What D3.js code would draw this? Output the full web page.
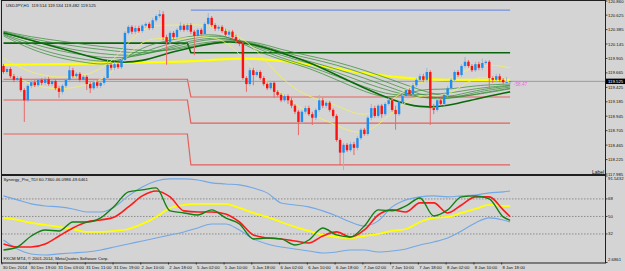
<!DOCTYPE html>
<html>
<head>
<meta charset="utf-8">
<script src="https://cdn.jsdelivr.net/npm/d3@7"></script>
<style>
  body { margin: 0; background: #d4d4d4; }
  svg text { font-family: 'Liberation Sans', Arial, sans-serif; }
</style>
</head>
<body>
<svg id="chart" width="625" height="271"></svg>
<script>
// ---- data ----
const chartTitle = 'USDJPY,H1  119.514 119.534 119.482 119.525';
const tdiTitle = 'Synergy_Pro_TDI 60.7360 46.0986 49.6461';
const copyright = 'FXCM MT4, \u00a9 2001-2014, MetaQuotes Software Corp.';

const timeLabels = ['30 Dec 2014', '30 Dec 19:00', '31 Dec 03:00', '31 Dec 11:00', '31 Dec 19:00',
  '2 Jan 10:00', '2 Jan 18:00', '5 Jan 02:00', '5 Jan 10:00', '5 Jan 18:00', '6 Jan 02:00',
  '6 Jan 10:00', '6 Jan 18:00', '7 Jan 02:00', '7 Jan 10:00', '7 Jan 18:00', '8 Jan 02:00',
  '8 Jan 10:00', '8 Jan 18:00'];
const timeLabelBars = [0, 8, 16, 24, 32, 40, 48, 56, 64, 72, 80, 88, 96, 104, 112, 120, 128, 136, 144];

const priceTicks = [120.860, 120.625, 120.385, 120.145, 119.905, 119.665, 119.425, 119.185,
  118.945, 118.705, 118.465, 118.225, 117.985];
const lastPrice = 119.525;
const tdiTicks = [91.5432, 68, 50, 32, 2.6861];
const tdiLevels = [68, 50, 32];

// H1 candles: open, high, low, close
const candles = [
  [119.78,119.81,119.65,119.68],[119.68,119.76,119.65,119.73],[119.73,119.76,119.58,119.61],
  [119.61,119.65,119.51,119.55],[119.55,119.61,119.51,119.58],[119.58,119.61,119.35,119.38],
  [119.38,119.41,118.85,119.21],[119.21,119.48,119.18,119.45],[119.45,119.55,119.41,119.51],
  [119.51,119.55,119.43,119.46],[119.46,119.58,119.43,119.55],[119.55,119.58,119.46,119.50],
  [119.50,119.60,119.46,119.56],[119.56,119.60,119.45,119.48],[119.48,119.56,119.45,119.53],
  [119.53,119.56,119.38,119.41],[119.41,119.45,119.25,119.35],[119.35,119.48,119.31,119.45],
  [119.45,119.58,119.41,119.55],[119.55,119.78,119.51,119.71],[119.71,119.75,119.58,119.61],
  [119.61,119.68,119.58,119.65],[119.65,119.68,119.51,119.55],[119.55,119.63,119.51,119.60],
  [119.60,119.63,119.38,119.48],[119.48,119.51,119.33,119.41],[119.41,119.55,119.38,119.51],
  [119.51,119.55,119.41,119.45],[119.45,119.53,119.41,119.50],[119.50,119.61,119.46,119.58],
  [119.58,119.88,119.55,119.80],[119.80,119.83,119.71,119.75],[119.75,119.85,119.71,119.81],
  [119.81,119.85,119.73,119.76],[119.76,119.91,119.73,119.88],[119.88,120.36,119.85,120.33],
  [120.33,120.46,120.30,120.43],[120.43,120.46,120.31,120.35],[120.35,120.45,120.31,120.41],
  [120.41,120.45,120.33,120.36],[120.36,120.48,120.33,120.45],[120.45,120.51,120.41,120.48],
  [120.48,120.51,120.38,120.41],[120.41,120.58,120.38,120.54],[120.54,120.64,120.51,120.61],
  [120.61,120.71,120.58,120.64],[120.64,120.69,120.21,120.26],[120.26,120.30,119.80,120.18],
  [120.18,120.36,120.15,120.33],[120.33,120.36,120.23,120.26],[120.26,120.41,120.23,120.38],
  [120.38,120.51,120.35,120.45],[120.45,120.48,120.35,120.38],[120.38,120.49,120.35,120.46],
  [120.46,120.49,120.31,120.35],[120.35,120.38,119.96,120.28],[120.28,120.41,120.25,120.38],
  [120.38,120.41,120.28,120.31],[120.31,120.51,120.28,120.48],[120.48,120.66,120.45,120.58],
  [120.58,120.61,120.43,120.46],[120.46,120.49,120.36,120.40],[120.40,120.46,120.36,120.43],
  [120.43,120.46,120.33,120.36],[120.36,120.40,120.26,120.30],[120.30,120.38,120.26,120.35],
  [120.35,120.38,120.23,120.26],[120.26,120.30,120.16,120.20],[120.20,120.23,120.11,120.15],
  [120.15,120.18,119.55,119.58],[119.58,119.61,119.35,119.48],[119.48,119.75,119.45,119.71],
  [119.71,119.75,119.46,119.63],[119.63,119.71,119.60,119.68],[119.68,119.71,119.55,119.58],
  [119.58,119.61,119.45,119.48],[119.48,119.51,119.38,119.41],[119.41,119.53,119.38,119.50],
  [119.50,119.53,119.25,119.35],[119.35,119.38,119.27,119.30],[119.30,119.33,119.18,119.21],
  [119.21,119.31,119.18,119.28],[119.28,119.31,119.15,119.21],[119.21,119.25,119.08,119.12],
  [119.12,119.15,118.98,119.02],[119.02,119.05,118.63,118.85],[118.85,119.05,118.82,119.02],
  [119.02,119.12,118.98,119.08],[119.08,119.12,118.95,118.98],[118.98,119.02,118.80,118.92],
  [118.92,119.08,118.88,119.05],[119.05,119.30,119.02,119.21],[119.21,119.25,119.08,119.12],
  [119.12,119.20,119.08,119.17],[119.17,119.20,119.02,119.05],[119.05,119.08,118.92,118.95],
  [118.95,118.98,118.52,118.55],[118.55,118.58,118.13,118.34],[118.34,118.50,118.05,118.47],
  [118.47,118.50,118.35,118.38],[118.38,118.52,118.35,118.48],[118.48,118.52,118.30,118.42],
  [118.42,118.61,118.38,118.58],[118.58,118.75,118.55,118.72],[118.72,118.75,118.62,118.65],
  [118.65,118.95,118.62,118.92],[118.92,119.15,118.88,119.08],[119.08,119.12,118.92,118.95],
  [118.95,119.15,118.92,119.12],[119.12,119.15,118.92,118.98],[118.98,119.18,118.95,119.15],
  [119.15,119.25,119.12,119.21],[119.21,119.25,119.02,119.05],[119.05,119.12,118.72,118.98],
  [118.98,119.21,118.95,119.18],[119.18,119.31,119.15,119.28],[119.28,119.41,119.25,119.38],
  [119.38,119.41,119.28,119.31],[119.31,119.50,119.28,119.46],[119.46,119.58,119.43,119.55],
  [119.55,119.65,119.51,119.61],[119.61,119.65,119.51,119.55],[119.55,119.75,119.51,119.68],
  [119.68,119.71,118.80,119.08],[119.08,119.15,118.98,119.05],[119.05,119.25,119.02,119.21],
  [119.21,119.25,119.12,119.15],[119.15,119.33,119.12,119.30],[119.30,119.45,119.27,119.41],
  [119.41,119.58,119.38,119.55],[119.55,119.71,119.51,119.68],[119.68,119.71,119.60,119.63],
  [119.63,119.81,119.60,119.78],[119.78,119.93,119.75,119.85],[119.85,119.88,119.75,119.78],
  [119.78,119.81,119.68,119.71],[119.71,119.85,119.68,119.81],[119.81,119.85,119.71,119.75],
  [119.75,119.90,119.71,119.83],[119.83,119.88,119.80,119.85],[119.85,119.88,119.41,119.58],
  [119.58,119.61,119.50,119.55],[119.55,119.65,119.51,119.61],[119.61,119.65,119.51,119.55],
  [119.55,119.58,119.48,119.51],[119.51,119.60,119.48,119.514],[119.514,119.534,119.482,119.525]
];

// daily levels: day one runs to bar 53, day two from bar 54
const levelBars = [0, 53, 54, 146];
const redLevels = [[119.56, 119.265], [119.215, 118.83], [118.65, 118.135]];
const greenLevel = [120.16, 120.00];
const blueLevel = 120.71;

// moving-average ribbon, sampled every 8 bars
const fanBars = [0, 8, 16, 24, 32, 40, 48, 56, 64, 72, 80, 88, 96, 104, 112, 120, 128, 136, 146];
const fanLines = [
  [120.28,120.05,119.91,119.83,119.78,120.11,120.21,120.30,120.31,120.05,119.88,119.75,119.55,119.35,119.215,119.41,119.38,119.46,119.48],
  [120.30,120.10,119.96,119.88,119.83,120.01,120.16,120.26,120.30,120.10,119.91,119.78,119.61,119.43,119.28,119.31,119.315,119.41,119.46],
  [120.31,120.15,120.03,119.95,119.90,119.95,120.11,120.23,120.26,120.13,119.95,119.83,119.68,119.50,119.35,119.25,119.25,119.38,119.45],
  [120.33,120.20,120.10,120.01,119.96,119.95,120.08,120.20,120.25,120.16,119.98,119.86,119.73,119.58,119.41,119.25,119.215,119.35,119.43],
  [120.35,120.23,120.15,120.08,120.03,119.98,120.05,120.16,120.21,120.18,120.01,119.91,119.80,119.65,119.48,119.30,119.215,119.315,119.41],
  [120.36,120.26,120.20,120.13,120.08,120.03,120.03,120.13,120.20,120.20,120.05,119.95,119.85,119.71,119.55,119.38,119.25,119.30,119.40]
];
const fanSlow = [120.33,120.21,120.08,119.95,119.83,119.85,120.01,120.11,120.20,120.15,120.00,119.85,119.63,119.41,119.215,119.08,119.115,119.23,119.35];
const yellowSlow = [119.80,119.805,119.81,119.82,119.83,119.84,119.85,119.86,119.90,119.905,119.87,119.805,119.74,119.655,119.60,119.56,119.55,119.55,119.55];
const bandUpper = [119.91,119.65,119.58,119.61,119.85,120.48,120.445,120.48,120.41,120.13,119.55,119.25,119.15,118.88,119.215,119.58,119.48,119.85,119.75];
const bandLower = [119.71,119.45,119.38,119.45,119.65,120.28,120.21,120.28,120.25,119.71,119.315,118.98,118.80,118.58,119.02,119.35,119.215,119.68,119.51];

// TDI sub window, sampled every 4 bars
const tdiBars = [0,4,8,12,16,20,24,28,32,36,40,44,48,52,56,60,64,68,72,76,80,84,88,92,96,100,104,108,112,116,120,124,128,132,136,140,144,146];
const tdiUpper = [71.1,67.0,62.9,60.8,59.8,57.7,54.6,54.6,59.8,71.1,80.3,86.5,88.6,88.6,87.5,84.5,83.4,82.4,79.3,74.2,63.9,61.8,59.8,55.7,50.5,44.3,40.2,45.4,59.8,67.0,70.1,71.1,70.1,71.1,72.1,74.2,75.2,76.2];
const tdiLower = [25.8,16.6,11.5,10.4,11.5,12.5,13.5,15.6,18.6,21.7,24.8,27.9,31.0,34.1,38.2,42.3,42.3,36.1,26.9,21.7,18.6,16.6,14.5,12.5,13.5,15.6,15.6,13.5,14.5,16.6,20.7,23.8,27.9,35.1,43.3,48.5,46.4,44.3];
const tdiBase = [48.5,46.4,43.3,41.3,39.2,37.1,34.1,34.1,35.1,37.1,42.3,49.5,58.7,61.8,62.9,62.9,62.9,58.7,53.6,49.5,44.3,39.2,35.1,31.0,28.9,27.9,29.9,32.0,35.1,37.1,44.3,48.5,49.5,53.6,57.7,61.8,60.8,60.736];
const tdiSignal = [21.7,18.6,18.6,21.7,29.9,38.2,44.3,46.4,49.5,59.8,71.1,76.2,70.1,55.7,54.6,54.6,52.6,44.3,31.0,27.9,26.9,24.8,22.7,29.9,34.1,28.9,36.1,51.5,56.7,54.6,63.9,63.9,53.6,61.8,70.1,70.1,56.7,49.6461];
const tdiRsi = [15.6,18.6,29.9,36.1,35.1,44.3,44.3,48.5,60.8,75.2,77.3,79.3,55.7,53.6,51.5,56.7,48.5,42.3,26.9,27.9,26.9,20.7,25.8,38.2,31.0,28.9,40.2,56.7,55.7,60.8,69.0,50.5,56.7,70.1,71.1,68.0,49.5,46.0986];

// ---- layout ----
const LEFT = 2, RIGHT = 605;
const MAIN_TOP = 1, MAIN_BOTTOM = 174;
const SUB_TOP = 176, SUB_BOTTOM = 262.5;

const svg = d3.select('#chart');
svg.append('rect').attr('width', 625).attr('height', 271).attr('fill', '#d4d4d4');

const defs = svg.append('defs');
defs.append('clipPath').attr('id', 'clip-main').append('rect')
  .attr('x', LEFT).attr('y', MAIN_TOP).attr('width', RIGHT - LEFT).attr('height', MAIN_BOTTOM - MAIN_TOP);
defs.append('clipPath').attr('id', 'clip-sub').append('rect')
  .attr('x', LEFT).attr('y', SUB_TOP).attr('width', RIGHT - LEFT).attr('height', SUB_BOTTOM - SUB_TOP);

// scales
const xScale = d3.scaleLinear().domain([0, 146]).range([3.5, 510.1]);
const yScale = d3.scaleLinear().domain([117.985, 120.86]).range([MAIN_BOTTOM, MAIN_TOP]);
const tdiScale = d3.scaleLinear().domain([2.6861, 91.5432]).range([SUB_BOTTOM, SUB_TOP]);

const main = svg.append('g').attr('clip-path', 'url(#clip-main)');
const sub = svg.append('g').attr('clip-path', 'url(#clip-sub)');

// helper to draw a sampled series
function drawSeries(group, bars, values, scale, color, width, curve) {
  const line = d3.line()
    .x((d, i) => xScale(bars[i]))
    .y(d => scale(d))
    .curve(curve || d3.curveMonotoneX);
  group.append('path')
    .datum(values)
    .attr('fill', 'none')
    .attr('stroke', color)
    .attr('stroke-width', width)
    .attr('d', line);
}

// daily levels
redLevels.forEach(lv => {
  drawSeries(main, levelBars, [lv[0], lv[0], lv[1], lv[1]], yScale, '#e4605c', 1.2, d3.curveLinear);
});
drawSeries(main, levelBars, [greenLevel[0], greenLevel[0], greenLevel[1], greenLevel[1]], yScale, '#0b640b', 1.6, d3.curveLinear);
drawSeries(main, [54, 146], [blueLevel, blueLevel], yScale, '#7390e0', 1.2, d3.curveLinear);

// bid line
main.append('line')
  .attr('x1', LEFT).attr('x2', RIGHT)
  .attr('y1', yScale(lastPrice)).attr('y2', yScale(lastPrice))
  .attr('stroke', '#9a9a9a').attr('stroke-width', 1);

// slow yellow MA
drawSeries(main, fanBars, yellowSlow, yScale, '#ffff00', 2.2, d3.curveBasis);

// ribbon
fanLines.forEach(vals => drawSeries(main, fanBars, vals, yScale, '#2f8a2f', 0.7, d3.curveBasis));
drawSeries(main, fanBars, fanSlow, yScale, '#0a6a0a', 1.6, d3.curveBasis);

// thin yellow band
drawSeries(main, fanBars, bandUpper, yScale, '#f2f25a', 0.8, d3.curveBasis);
drawSeries(main, fanBars, bandLower, yScale, '#f2f25a', 0.8, d3.curveBasis);

// candles
const bars = candles.map((d, i) => ({ i: i, o: d[0], h: d[1], l: d[2], c: d[3] }));
main.selectAll('.wick')
  .data(bars)
  .join('line')
  .attr('class', 'wick')
  .attr('x1', d => xScale(d.i)).attr('x2', d => xScale(d.i))
  .attr('y1', d => yScale(d.h)).attr('y2', d => yScale(d.l))
  .attr('stroke', d => d.c >= d.o ? '#9fb6cf' : '#e86a6a')
  .attr('stroke-width', 1);
main.selectAll('.body')
  .data(bars)
  .join('rect')
  .attr('class', 'body')
  .attr('x', d => xScale(d.i) - 1.2)
  .attr('width', 2.4)
  .attr('y', d => yScale(Math.max(d.o, d.c)))
  .attr('height', d => Math.max(0.8, Math.abs(yScale(d.o) - yScale(d.c))))
  .attr('fill', d => d.c >= d.o ? '#1e8cf0' : '#ff1010');

// magenta distance text
svg.append('text')
  .text('-58.47')
  .attr('x', 514).attr('y', 86)
  .attr('font-size', 4.6)
  .attr('fill', '#f060f0');

// TDI
tdiLevels.forEach(v => {
  sub.append('line')
    .attr('x1', LEFT).attr('x2', RIGHT)
    .attr('y1', tdiScale(v)).attr('y2', tdiScale(v))
    .attr('stroke', '#7a7a7a').attr('stroke-width', 0.8)
    .attr('stroke-dasharray', '1.5,1.5');
});
drawSeries(sub, tdiBars, tdiUpper, tdiScale, '#72a8e6', 1.1);
drawSeries(sub, tdiBars, tdiLower, tdiScale, '#72a8e6', 1.1);
drawSeries(sub, tdiBars, tdiBase, tdiScale, '#ffff00', 1.8);
drawSeries(sub, tdiBars, tdiSignal, tdiScale, '#ff1a1a', 1.6);
drawSeries(sub, tdiBars, tdiRsi, tdiScale, '#128012', 1.4);

// frames
svg.append('rect')
  .attr('x', LEFT - 0.5).attr('y', MAIN_TOP - 0.5)
  .attr('width', RIGHT - LEFT + 1).attr('height', MAIN_BOTTOM - MAIN_TOP + 1)
  .attr('fill', 'none').attr('stroke', '#202020').attr('stroke-width', 1);
svg.append('rect')
  .attr('x', LEFT - 0.5).attr('y', SUB_TOP - 0.5)
  .attr('width', RIGHT - LEFT + 1).attr('height', SUB_BOTTOM - SUB_TOP + 1)
  .attr('fill', 'none').attr('stroke', '#202020').attr('stroke-width', 1);

// price axis
const priceAxis = svg.append('g');
priceTicks.forEach(p => {
  const yy = yScale(p);
  priceAxis.append('line')
    .attr('x1', RIGHT + 0.5).attr('x2', RIGHT + 2.5)
    .attr('y1', yy).attr('y2', yy)
    .attr('stroke', '#202020').attr('stroke-width', 0.8);
  priceAxis.append('text')
    .text(p.toFixed(3))
    .attr('x', 608).attr('y', yy + 1.5)
    .attr('font-size', 4.3).attr('fill', '#111');
});
// current price box
priceAxis.append('rect')
  .attr('x', 606).attr('y', yScale(lastPrice) - 2.7)
  .attr('width', 19).attr('height', 5.4)
  .attr('fill', '#000');
priceAxis.append('text')
  .text(lastPrice.toFixed(3))
  .attr('x', 608).attr('y', yScale(lastPrice) + 1.5)
  .attr('font-size', 4.3).attr('fill', '#fff');

// TDI axis
tdiTicks.forEach((v, i) => {
  const yy = tdiScale(v);
  const ty = i === 0 ? yy + 4 : (i === tdiTicks.length - 1 ? yy - 2 : yy + 1.5);
  svg.append('line')
    .attr('x1', RIGHT + 0.5).attr('x2', RIGHT + 2.5)
    .attr('y1', yy).attr('y2', yy)
    .attr('stroke', '#202020').attr('stroke-width', 0.8);
  svg.append('text')
    .text(Number.isInteger(v) ? String(v) : v.toFixed(4))
    .attr('x', 608).attr('y', ty)
    .attr('font-size', 4.3).attr('fill', '#111');
});

// time axis
timeLabels.forEach((t, i) => {
  const xx = xScale(timeLabelBars[i]) - 1.5;
  svg.append('line')
    .attr('x1', xx).attr('x2', xx)
    .attr('y1', SUB_BOTTOM).attr('y2', SUB_BOTTOM + 2)
    .attr('stroke', '#202020').attr('stroke-width', 0.8);
  svg.append('text')
    .text(t)
    .attr('x', xx + 0.8).attr('y', 268.5)
    .attr('font-size', 4.3).attr('fill', '#111');
});

// texts
svg.append('text').text(chartTitle)
  .attr('x', 6).attr('y', 6.8).attr('font-size', 4.3).attr('fill', '#111')
  .style('white-space', 'pre');
svg.append('text').text(tdiTitle)
  .attr('x', 3.5).attr('y', 181).attr('font-size', 4.3).attr('fill', '#111');
svg.append('text').text(copyright)
  .attr('x', 3.5).attr('y', 260).attr('font-size', 4.3).attr('fill', '#111');
svg.append('text').text('Label')
  .attr('x', 592).attr('y', 173.8).attr('font-size', 5).attr('fill', '#111');
</script>
</body>
</html>
